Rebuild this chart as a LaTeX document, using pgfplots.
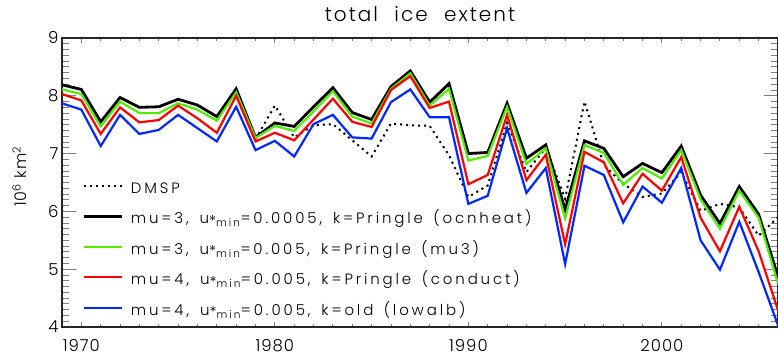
\documentclass[border=0pt]{standalone}
\usepackage{fontspec}
\setmainfont{Poppins}[UprightFont={* Light}]
\newfontfamily\widefont{Poppins}[UprightFont={* Light}, LetterSpace=19, WordSpace=1.5]
\newfontfamily\titlefont{Poppins}[UprightFont={* Light}, LetterSpace=10, WordSpace=2.2]
\newfontfamily\tickfont{Poppins}[UprightFont={* Light}, LetterSpace=6]
\newcommand{\gap}{\hspace{11bp}}
\newcommand{\ustar}{u\raisebox{-0.3ex}{*}\textsubscript{min}}
\usepackage{pgfplots}
\usepackage{pgfplotstable}
\pgfplotsset{compat=1.18}
\definecolor{lgreen}{RGB}{80,235,0}
\definecolor{lred}{RGB}{255,0,0}
\definecolor{lblue}{RGB}{0,40,255}

\pgfplotstableread{
year black green red blue
1969 8.19 8.11 8.03 7.87
1970 8.11 8.03 7.92 7.76
1971 7.55 7.47 7.34 7.13
1972 7.97 7.90 7.80 7.67
1973 7.80 7.70 7.54 7.34
1974 7.81 7.70 7.58 7.41
1975 7.94 7.87 7.83 7.67
1976 7.84 7.76 7.61 7.44
1977 7.64 7.57 7.36 7.21
1978 8.12 8.06 8.00 7.81
1979 7.28 7.27 7.21 7.06
1980 7.53 7.48 7.36 7.22
1981 7.47 7.39 7.23 6.95
1982 7.81 7.73 7.59 7.51
1983 8.14 8.08 7.95 7.67
1984 7.71 7.64 7.55 7.28
1985 7.59 7.52 7.46 7.26
1986 8.16 8.12 8.10 7.89
1987 8.43 8.39 8.34 8.11
1988 7.89 7.83 7.79 7.63
1989 8.21 8.12 7.90 7.63
1990 7.00 6.88 6.47 6.13
1991 7.02 6.96 6.63 6.27
1992 7.87 7.81 7.67 7.44
1993 6.92 6.82 6.54 6.32
1994 7.15 7.09 6.98 6.75
1995 6.03 5.88 5.43 5.09
1996 7.22 7.15 7.03 6.79
1997 7.09 7.01 6.85 6.63
1998 6.60 6.46 6.14 5.81
1999 6.83 6.75 6.65 6.43
2000 6.67 6.57 6.36 6.15
2001 7.13 7.06 6.94 6.75
2002 6.28 6.21 5.89 5.50
2003 5.79 5.70 5.31 4.99
2004 6.43 6.36 6.08 5.82
2005 5.95 5.89 5.31 4.95
2006 4.87 4.75 4.29 4.03
}\models

\pgfplotstableread{
year dmsp
1979 7.25
1980 7.83
1981 7.28
1982 7.49
1983 7.51
1984 7.23
1985 6.95
1986 7.52
1987 7.49
1988 7.48
1989 6.97
1990 6.25
1991 6.45
1992 7.53
1993 6.68
1994 7.10
1995 6.22
1996 7.90
1997 6.80
1998 6.48
1999 6.25
2000 6.31
2001 6.68
2002 6.01
2003 6.13
2004 6.07
2005 5.58
2006 5.90
}\dmsp

\begin{document}
\begin{tikzpicture}
\begin{axis}[
  scale only axis, width=716bp, height=289bp,
  xmin=1969, xmax=2006, ymin=4, ymax=9,
  xtick={1970,1980,1990,2000},
  minor xtick={1969,...,2006},
  ytick={4,5,6,7,8,9},
  minor ytick={4.1,4.2,4.3,4.4,4.5,4.6,4.7,4.8,4.9,5.1,5.2,5.3,5.4,5.5,5.6,5.7,5.8,5.9,6.1,6.2,6.3,6.4,6.5,6.6,6.7,6.8,6.9,7.1,7.2,7.3,7.4,7.5,7.6,7.7,7.8,7.9,8.1,8.2,8.3,8.4,8.5,8.6,8.7,8.8,8.9},
  axis line style={line width=1.2bp, draw=black!85},
  major x tick style={line width=1bp,/pgfplots/major tick length=5bp},
  minor x tick style={line width=0.8bp,/pgfplots/minor tick length=3bp},
  major y tick style={line width=1bp,/pgfplots/major tick length=14bp},
  minor y tick style={line width=0.8bp,/pgfplots/minor tick length=7bp},
  /pgf/number format/assume math mode=true,
  xticklabel style={/pgf/number format/1000 sep={}},
  tick label style={font=\tickfont\fontsize{16.5bp}{18bp}\selectfont},
  xticklabel style={yshift=-9bp},
  title={total ice extent},
  title style={font=\titlefont\fontsize{20bp}{22bp}\selectfont, at={(axis description cs:0.5,1)}, anchor=base, yshift=11bp},
  ylabel={10\textsuperscript{6} km\textsuperscript{2}},
  ylabel style={font=\tickfont\fontsize{16bp}{18bp}\selectfont, at={(axis description cs:-0.0489,0.52)}, anchor=base},
  legend style={draw=none, fill=none, at={(axis description cs:0.0279,0.499)}, anchor=north west,
     inner sep=0pt, row sep=17bp, column sep=0bp,
     font=\widefont\fontsize{15bp}{17bp}\selectfont,
     nodes={inner sep=0pt, text height=10.5bp, text depth=3bp}},
  legend cell align=left,
  legend image code/.code={\draw[#1] (0bp,4bp) -- (38bp,4bp);},
  legend style={/tikz/every odd column/.append style={column sep=8bp}},
]
\addplot[black, line width=2bp, dash pattern=on 2bp off 4bp] table[x=year,y=dmsp] {\dmsp};
\addlegendentry{DMSP}
\addplot[black, line width=2.8bp] table[x=year,y=black] {\models};
\addlegendentry{mu=3,\gap\ustar=0.0005,\gap k=Pringle (ocnheat)}
\addplot[lgreen, line width=2.2bp] table[x=year,y=green] {\models};
\addlegendentry{mu=3,\gap\ustar=0.005,\gap k=Pringle (mu3)}
\addplot[lred, line width=2.2bp] table[x=year,y=red] {\models};
\addlegendentry{mu=4,\gap\ustar=0.005,\gap k=Pringle (conduct)}
\addplot[lblue, line width=2.2bp] table[x=year,y=blue] {\models};
\addlegendentry{mu=4,\gap\ustar=0.005,\gap k=old (lowalb)}
\end{axis}
\pgfresetboundingbox
\path[use as bounding box] ([xshift=-62bp,yshift=-30bp]current axis.south west) rectangle ([yshift=38bp]current axis.north east);
\end{tikzpicture}
\end{document}
